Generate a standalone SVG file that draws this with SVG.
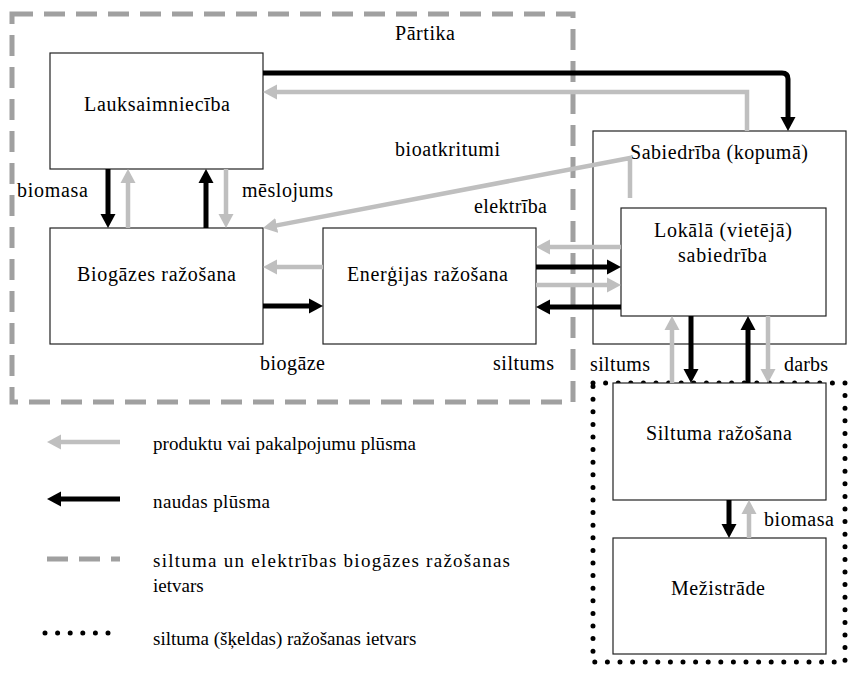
<svg xmlns="http://www.w3.org/2000/svg" width="848" height="675" viewBox="0 0 848 675">
<defs>
<style>
text{font-family:"Liberation Serif","DejaVu Serif","Times New Roman",serif;font-size:20px;fill:#000;}
.lg{font-size:19px;}
.box{fill:#fff;stroke:#222;stroke-width:1.2;}
.blk{fill:none;stroke:#000;stroke-width:5;}
.gry{fill:none;stroke:#bfbfbf;stroke-width:4.5;}
.dash{fill:none;stroke:#a0a0a0;stroke-width:5;stroke-dasharray:21 11;}
.dot{fill:none;stroke:#000;stroke-width:5;stroke-linecap:round;stroke-dasharray:0 12.6;}
</style>
<marker id="ab" markerUnits="userSpaceOnUse" markerWidth="15" markerHeight="16" refX="4" refY="8" orient="auto" viewBox="0 0 15 16"><path d="M0,0.5 L14,8 L0,15.5 z" fill="#000"/></marker>
<marker id="ag" markerUnits="userSpaceOnUse" markerWidth="15" markerHeight="16" refX="4" refY="8" orient="auto" viewBox="0 0 15 16"><path d="M0,0.5 L14,8 L0,15.5 z" fill="#bfbfbf"/></marker>
</defs>
<rect width="848" height="675" fill="#fff"/>
<g font-family="'Liberation Serif', 'DejaVu Serif', serif">
<g id="frame-partika">
<rect class="dash" x="12" y="14" width="561" height="388"/>
<text x="395" y="40" textLength="60">Pārtika</text>
</g>
<g id="frame-siltums">
<rect class="dot" x="593" y="383" width="252" height="279"/>
</g>

<g id="lauksaimnieciba"><rect class="box" x="50" y="53" width="213" height="116"/><text x="84" y="111" textLength="146">Lauksaimniecība</text></g>
<g id="biogazes"><rect class="box" x="50" y="228" width="213" height="116"/><text x="77" y="281" textLength="159">Biogāzes ražošana</text></g>
<g id="energijas"><rect class="box" x="323" y="228" width="213" height="116"/><text x="347" y="281" textLength="161">Enerģijas ražošana</text></g>
<g id="sabiedriba"><rect class="box" x="593" y="131" width="253" height="213"/><text x="630" y="159" textLength="178">Sabiedrība (kopumā)</text></g>
<g id="lokala"><rect class="box" x="621" y="208" width="205" height="108"/><text x="654" y="237" textLength="138">Lokālā (vietējā)</text><text x="678" y="262" textLength="89">sabiedrība</text></g>
<g id="siltuma"><rect class="box" x="613" y="383" width="213" height="117"/><text x="646" y="440" textLength="146">Siltuma ražošana</text></g>
<g id="mezistrade"><rect class="box" x="613" y="538" width="213" height="116"/><text x="671" y="595" textLength="94">Mežistrāde</text></g>

<g id="connectors">
<path class="blk" d="M263,73 H782 Q788,73 788,79 V121" marker-end="url(#ab)"/>
<path class="gry" d="M747,131 V92 H273" marker-end="url(#ag)"/>
<path class="gry" d="M630,198 V158 L272.8,226.1" marker-end="url(#ag)"/>
<path class="blk" d="M108,169 V218" marker-end="url(#ab)"/>
<path class="gry" d="M128,228 V179" marker-end="url(#ag)"/>
<path class="blk" d="M206,228 V179" marker-end="url(#ab)"/>
<path class="gry" d="M226,169 V218" marker-end="url(#ag)"/>
<path class="gry" d="M323,267 H273" marker-end="url(#ag)"/>
<path class="blk" d="M263,306 H313" marker-end="url(#ab)"/>
<path class="gry" d="M621,247 H546" marker-end="url(#ag)"/>
<path class="blk" d="M536,267 H611" marker-end="url(#ab)"/>
<path class="gry" d="M536,285 H611" marker-end="url(#ag)"/>
<path class="blk" d="M621,307 H546" marker-end="url(#ab)"/>
<path class="gry" d="M672,383 V326" marker-end="url(#ag)"/>
<path class="blk" d="M691,316 V373" marker-end="url(#ab)"/>
<path class="blk" d="M748,383 V326" marker-end="url(#ab)"/>
<path class="gry" d="M768,316 V373" marker-end="url(#ag)"/>
<path class="blk" d="M729,500 V528" marker-end="url(#ab)"/>
<path class="gry" d="M749,538 V510" marker-end="url(#ag)"/>
<text x="17" y="197" textLength="71">biomasa</text>
<text x="242" y="197" textLength="91">mēslojums</text>
<text x="395" y="156" textLength="105">bioatkritumi</text>
<text x="474" y="213" textLength="73">elektrība</text>
<text x="260" y="370" textLength="65">biogāze</text>
<text x="493" y="370" textLength="61">siltums</text>
<text x="590" y="371" textLength="60">siltums</text>
<text x="784" y="371" textLength="44">darbs</text>
<text x="764" y="526" textLength="70">biomasa</text>
</g>

<g id="legend">
<path class="gry" d="M120,442 H57" marker-end="url(#ag)"/>
<text class="lg" x="153" y="450" textLength="263">produktu vai pakalpojumu plūsma</text>
<path class="blk" d="M120,499 H57" marker-end="url(#ab)"/>
<text class="lg" x="153" y="508" textLength="117">naudas plūsma</text>
<path class="dash" d="M47,559 H120"/>
<text class="lg" x="153" y="567" textLength="357">siltuma un elektrības biogāzes ražošanas</text>
<text class="lg" x="153" y="592">ietvars</text>
<path class="dot" d="M45,633 H110"/>
<text class="lg" x="153" y="645">siltuma (šķeldas) ražošanas ietvars</text>
</g>
</g>
</svg>
